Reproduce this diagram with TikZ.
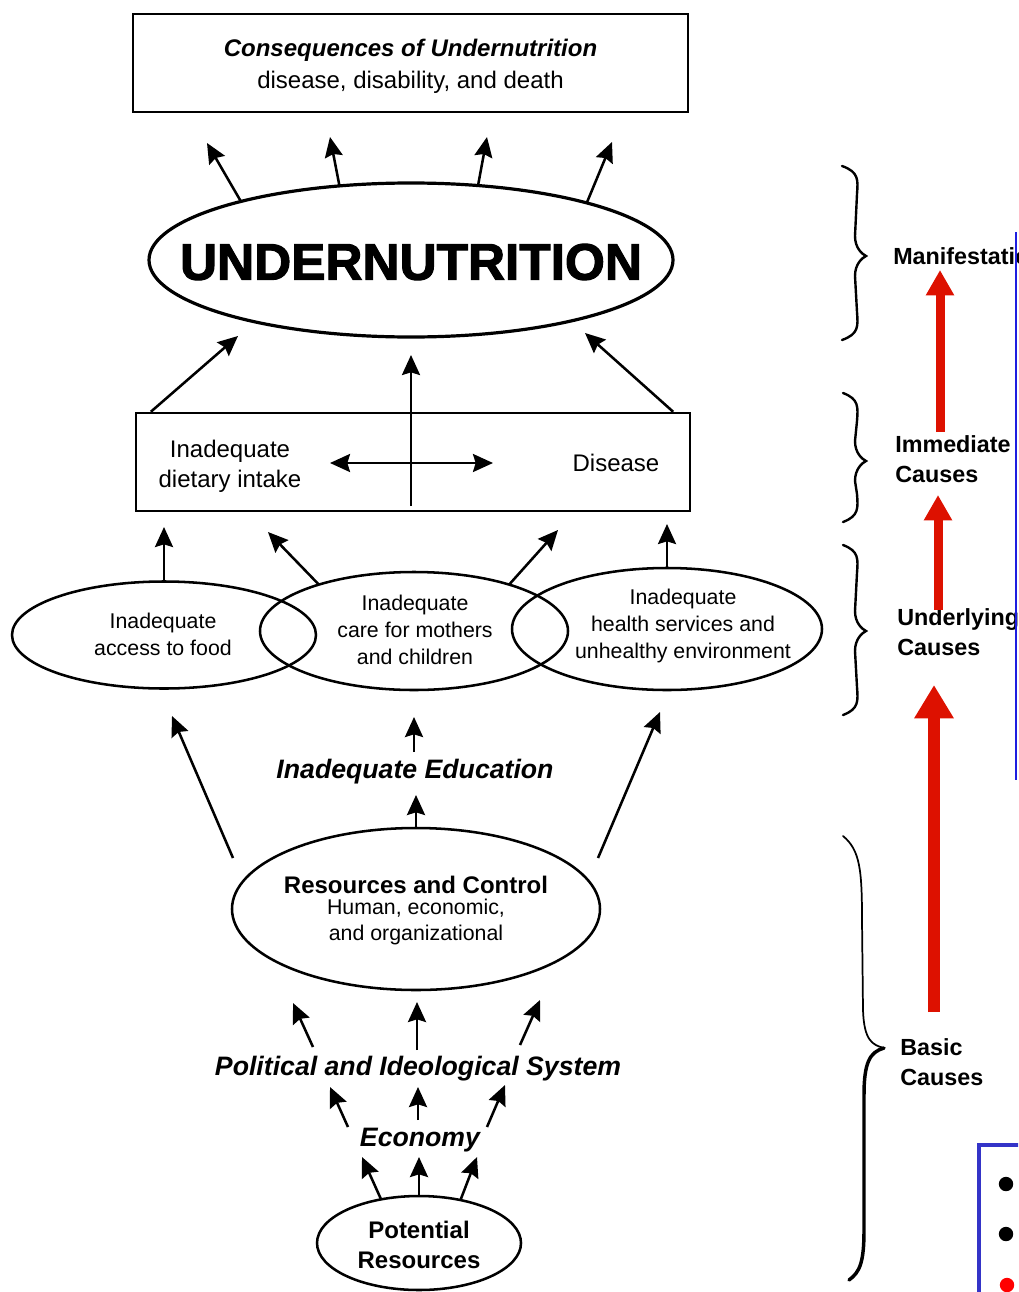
\documentclass[tikz,border=0pt]{standalone}
\usepackage{fontspec}
\setmainfont{Liberation Sans}
\newfontfamily\heavyfont[BoldFeatures={FakeBold=2.2}]{Liberation Sans}
\usetikzlibrary{shapes.geometric,arrows.meta,calc}
\definecolor{redA}{HTML}{DD1100}
\definecolor{blueA}{HTML}{1E1EE0}
\definecolor{blueB}{HTML}{3434C8}
\newcommand{\mybrace}[6]{%
  \draw[bracest] (#1,#4) .. controls (#2+4,#4+6) and (#2+3,#4+14) .. (#2+2,#4+28) -- (#2,#5-20)
    .. controls (#2,#5-8) and (#3-4,#5-2) .. (#3,#5)
    .. controls (#3-4,#5+2) and (#2,#5+8) .. (#2,#5+20) -- (#2+2,#6-28)
    .. controls (#2+3,#6-14) and (#2+4,#6-6) .. (#1,#6);}
\begin{document}
\begin{tikzpicture}[x=0.75pt,y=-0.75pt,
  arr/.style={line width=1.9pt,-{Stealth[length=15pt,width=13.5pt,inset=2pt]}},
  darr/.style={line width=1.9pt,{Stealth[length=15pt,width=13.5pt,inset=2pt]}-{Stealth[length=15pt,width=13.5pt,inset=2pt]}},
  boxst/.style={draw,line width=1.8pt,rectangle,inner sep=0pt},
  ell/.style={draw,ellipse,line width=1.9pt,inner sep=0pt,outer sep=0pt},
  bracest/.style={line width=1.8pt,line cap=round},
  redarr/.style={draw=redA,line width=#1},
  lbl/.style={anchor=west,inner sep=0pt,align=left,font=\fontsize{17.5}{22.5}\selectfont\bfseries},
  txt/.style={inner sep=0pt,align=center}]
\useasboundingbox (0,0) rectangle (1018,1292);
\clip (0,0) rectangle (1018,1292);
\fill[white] (0,0) rectangle (1018,1292);

% --- consequences
\node[boxst,minimum width=416.25pt,minimum height=73.5pt] (cons) at (410.5,63) {};
\node[txt,font=\fontsize{18}{24}\selectfont] (consT) at (410.5,66)
  {{\bfseries\itshape Consequences of Undernutrition}\\disease, disability, and death};

% --- undernutrition
\node[ell,line width=2.4pt,minimum width=393pt,minimum height=115.5pt] (un) at (411,260) {};
\node[txt,font=\fontsize{38.5}{40}\selectfont\heavyfont\bfseries] (unT) at (411,262) {UNDERNUTRITION};
\draw[arr] (un.161.8) -- (207,143);
\draw[arr] (un.134.6) -- (330,137);
\draw[arr] (un.48) -- (487,137);
\draw[arr] (un.18.3) -- (612,142);

% --- immediate causes
\node[boxst,minimum width=415.5pt,minimum height=73.5pt] (imm) at (413,462) {};
\node[txt,font=\fontsize{18}{22.5}\selectfont] (diet) at (230,466) {Inadequate\\dietary intake};
\node[txt,font=\fontsize{18}{22.5}\selectfont] (dis) at (616,463) {Disease};
\draw[darr] (330,463) -- (493,463);
\draw[arr] ($(imm.south)+(-2,-6)$) -- (411,355);
\draw[arr] ($(imm.north west)+(16,0)$) -- (238,336);
\draw[arr] ($(imm.north east)+(-18,0)$) -- (585,333);

% --- underlying causes
\node[ell,minimum width=228pt,minimum height=80.25pt] (L) at (164,635) {};
\node[ell,minimum width=231pt,minimum height=88.5pt] (M) at (414,631) {};
\node[ell,minimum width=232.5pt,minimum height=91.5pt] (R) at (667,629) {};
\node[txt,font=\fontsize{16}{20.25}\selectfont] (LT) at (163,634) {Inadequate\\access to food};
\node[txt,font=\fontsize{16}{20.25}\selectfont] (MT) at (415,630) {Inadequate\\care for mothers\\and children};
\node[txt,font=\fontsize{16}{20.25}\selectfont] (RT) at (683,626) {Inadequate\\health services and\\unhealthy environment};
\draw[arr] (L.north) -- (164,527);
\draw[arr] (M.154.3) -- (268,532);
\draw[arr] (M.26.4) -- (558,530);
\draw[arr] (R.north) -- (667,524);

% --- basic causes
\node[txt,font=\fontsize{20}{24}\selectfont\bfseries\itshape] (edu) at (415,772) {Inadequate Education};
\node[ell,minimum width=276pt,minimum height=121.5pt] (res) at (416,909) {};
\node[txt,font=\fontsize{18}{22}\selectfont\bfseries] (resT) at (416,885) {Resources and Control};
\node[txt,font=\fontsize{16}{19.5}\selectfont] (resS) at (416,922) {Human, economic,\\and organizational};
\draw[arr] (res.north) -- (416,795);
\draw[arr] (414,752) -- (414,717);
\draw[arr] (233,858) -- (172,716);
\draw[arr] (598,858) -- (660,712);

\node[txt,font=\fontsize{20}{24}\selectfont\bfseries\itshape] (pol) at (418,1069) {Political and Ideological System};
\draw[arr] (313,1047) -- (293,1003);
\draw[arr] (417,1050) -- (417,1002);
\draw[arr] (520,1045) -- (540,1000);

\node[txt,font=\fontsize{20}{24}\selectfont\bfseries\itshape] (eco) at (420,1140) {Economy};
\draw[arr] (348,1127) -- (330,1087);
\draw[arr] (418,1120) -- (418,1087);
\draw[arr] (487,1127) -- (505,1085);

\node[ell,minimum width=153pt,minimum height=70.5pt] (pot) at (419,1243) {};
\node[txt,font=\fontsize{18}{22.5}\selectfont\bfseries] (potT) at (419,1245) {Potential\\Resources};
\draw[arr] (pot.131.9) -- (362,1157);
\draw[arr] (pot.north) -- (419,1157);
\draw[arr] (pot.46.4) -- (477,1157);

% --- braces and labels
\mybrace{842}{855}{866}{166}{256}{340}
\mybrace{843}{855}{866}{393}{461}{522}
\mybrace{843}{855}{866}{545}{631}{715}
\draw[line width=1.3pt,line cap=round] (843,836) .. controls (860,850) and (862,870) .. (862,920) -- (863,1010)
   .. controls (864,1040) and (872,1045) .. (884,1048);
\draw[line width=2.6pt,line cap=round] (884,1048) .. controls (870,1052) and (864,1062) .. (864,1095) -- (864,1230)
   .. controls (864,1262) and (860,1272) .. (849,1280);

\node[lbl] (man) at (893,256) {Manifestation};
\node[lbl] (immL) at (895,459) {Immediate\\Causes};
\node[lbl] (undL) at (897,632) {Underlying\\Causes};
\node[lbl] (basL) at (900,1062) {Basic\\Causes};

% --- red arrows
\draw[redarr=6.75pt,-{Triangle[length=19pt,width=20pt]}] (940,432) -- (940,270);
\draw[redarr=6.75pt,-{Triangle[length=19pt,width=20pt]}] (938,610) -- (938,495);
\draw[redarr=9.5pt,-{Triangle[length=25pt,width=28pt]}] (934,1012) -- (934,685);

% --- blue frames
\draw[blueA,line width=1.6pt] (1016,232) -- (1016,780);
\draw[blueB,line width=3pt] (979,1300) -- (979,1145) -- (1030,1145);
\fill[black] (1006,1184) circle[radius=5.4pt];
\fill[black] (1006,1234) circle[radius=5.4pt];
\fill[red] (1007,1285) circle[radius=5.4pt];
\end{tikzpicture}
\end{document}
